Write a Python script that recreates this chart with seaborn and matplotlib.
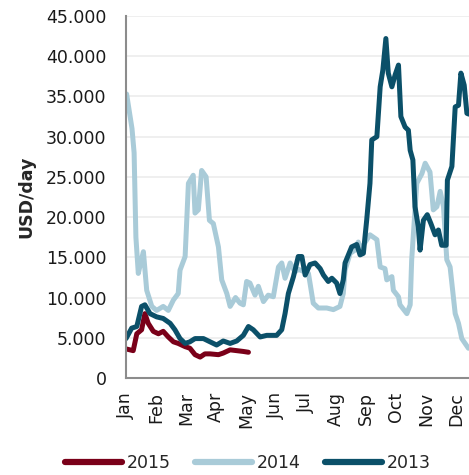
import pandas as pd
import numpy as np
import matplotlib.pyplot as plt
import seaborn as sns

# positions are in months (0 = Jan), values in USD/day
months = ['Jan', 'Feb', 'Mar', 'Apr', 'May', 'Jun',
          'Jul', 'Aug', 'Sep', 'Oct', 'Nov', 'Dec']

x_2015 = [0.02, 0.24, 0.36, 0.52, 0.63, 0.74, 0.91, 1.08, 1.24, 1.41, 1.58, 1.74,
          1.97, 2.13, 2.30, 2.47, 2.63, 2.80, 3.08, 3.24, 3.47, 3.69, 3.91, 4.08]
y_2015 = [3600, 3400, 5500, 6000, 8000, 6800, 5800, 5500, 5800, 5100, 4500, 4300,
          3900, 3700, 2900, 2600, 3000, 3000, 2900, 3100, 3500, 3400, 3300, 3200]

x_2014 = [0.02, 0.20, 0.27, 0.33, 0.41, 0.50, 0.58, 0.69, 0.86, 1.02, 1.24, 1.41,
          1.58, 1.74, 1.80, 1.97, 2.08, 2.24, 2.30, 2.41, 2.52, 2.67, 2.78, 2.91,
          3.08, 3.19, 3.36, 3.47, 3.65, 3.80, 3.91, 4.02, 4.13, 4.30, 4.41, 4.58,
          4.74, 4.91, 5.08, 5.19, 5.30, 5.47, 5.63, 5.75, 6.08, 6.24, 6.41, 6.69,
          6.91, 7.13, 7.24, 7.30, 7.47, 7.63, 7.74, 7.80, 8.13, 8.36, 8.47, 8.63,
          8.69, 8.86, 8.91, 9.08, 9.13, 9.36, 9.47, 9.52, 9.69, 9.86, 9.97, 10.13,
          10.24, 10.36, 10.47, 10.58, 10.69, 10.80, 10.97, 11.08, 11.19, 11.41]
y_2014 = [35300, 31000, 28000, 17500, 13000, 14500, 15700, 10900, 8900, 8400, 8900, 8400,
          9700, 10500, 13400, 15100, 24200, 25200, 20500, 20900, 25800, 25000, 19600, 19200,
          16300, 12200, 10500, 8900, 10000, 9300, 9100, 12000, 11800, 10300, 11400, 9500,
          10300, 10100, 13800, 14300, 12400, 14300, 13200, 13500, 13000, 9300, 8700, 8700,
          8500, 8900, 10500, 13400, 15500, 15900, 16900, 15900, 17800, 17200, 13800, 13600,
          12200, 12600, 10900, 10100, 9100, 8000, 9100, 14700, 24200, 25400, 26700, 25600,
          20900, 21300, 23200, 21300, 14700, 13800, 8000, 6800, 4900, 3700]

x_2013 = [0.00, 0.19, 0.36, 0.52, 0.63, 0.80, 1.02, 1.24, 1.47, 1.63, 1.80, 1.97,
          2.13, 2.30, 2.58, 2.80, 3.02, 3.24, 3.47, 3.69, 3.91, 4.08, 4.24, 4.47,
          4.69, 5.02, 5.19, 5.30, 5.41, 5.58, 5.74, 5.86, 5.97, 6.13, 6.30, 6.47,
          6.58, 6.74, 6.86, 7.02, 7.13, 7.24, 7.30, 7.41, 7.52, 7.69, 7.80, 7.91,
          8.02, 8.13, 8.19, 8.36, 8.47, 8.56, 8.66, 8.74, 8.86, 8.97, 9.08, 9.16,
          9.30, 9.41, 9.47, 9.56, 9.63, 9.74, 9.80, 9.91, 10.04, 10.16, 10.30, 10.41,
          10.52, 10.67, 10.71, 10.86, 10.97, 11.08, 11.16, 11.27, 11.36, 11.43]
y_2013 = [4900, 6200, 6400, 8900, 9100, 8000, 7600, 7400, 6800, 6000, 4900, 4300,
          4500, 4900, 4900, 4500, 4100, 4600, 4300, 4600, 5300, 6400, 6000, 5100,
          5300, 5300, 6000, 8000, 10500, 12600, 15100, 15100, 12800, 14100, 14300, 13600,
          12800, 12000, 12400, 11800, 10500, 12200, 14300, 15300, 16300, 16600, 15300, 15500,
          19600, 24200, 29600, 30000, 36200, 38300, 42200, 37900, 36200, 37700, 38900, 32500,
          31200, 30800, 28300, 27100, 21300, 18800, 15900, 19600, 20300, 19200, 17800, 18400,
          16500, 16500, 24600, 26300, 33700, 33900, 37900, 36400, 32900, 32800]

years = ['2015', '2014', '2013']
colors = ['#7a0019', '#a9cbd8', '#0b5069']

df = pd.concat([
    pd.DataFrame({'month': x_2015, 'usd': y_2015, 'year': '2015'}),
    pd.DataFrame({'month': x_2014, 'usd': y_2014, 'year': '2014'}),
    pd.DataFrame({'month': x_2013, 'usd': y_2013, 'year': '2013'}),
])

sns.set_style('white')
plt.rcParams['font.family'] = ['DejaVu Sans']

fig = plt.figure(figsize=(4.69, 4.75), dpi=100)
ax = fig.add_axes([126 / 469, 1 - 378 / 475, 343 / 469, 362 / 475])

sns.lineplot(data=df, x='month', y='usd', hue='year', hue_order=years,
             palette=colors, estimator=None, sort=False, linewidth=3.6,
             ax=ax, legend=False)

ax.set_xlim(0, 11.43)
ax.set_ylim(0, 45000)
ax.set_yticks(np.arange(0, 45001, 5000))
ax.set_yticklabels([f'{v:,}'.replace(',', '.') for v in range(0, 45001, 5000)],
                   fontsize=12.5, color='#1a1a1a')
ax.set_xticks(range(12))
ax.set_xticklabels(months, rotation=90, fontsize=12.5, color='#1a1a1a')
ax.yaxis.grid(True, color='#ececec', linewidth=1.2)
ax.set_axisbelow(True)

for s in ['top', 'right']:
    ax.spines[s].set_visible(False)
for s in ['left', 'bottom']:
    ax.spines[s].set_color('#8c8c8c')
    ax.spines[s].set_linewidth(1.5)
ax.tick_params(axis='both', which='major', length=6, width=1.2, color='#8c8c8c')
ax.tick_params(axis='y', pad=8)
ax.tick_params(axis='x', pad=4)

ax.set_xlabel('')
ax.set_ylabel('USD/day', fontsize=12.5, fontweight='bold')
ax.yaxis.set_label_coords(-0.265, 0.5)

handles = [plt.Line2D([], [], color=c, linewidth=4.5) for c in colors]
fig.legend(handles, years, loc='center', bbox_to_anchor=(0.528, 0.025), ncol=3,
           frameon=False, fontsize=12.5, handlelength=3.3, handletextpad=0.25,
           columnspacing=1.4)

fig.savefig('out.png', dpi=100)
